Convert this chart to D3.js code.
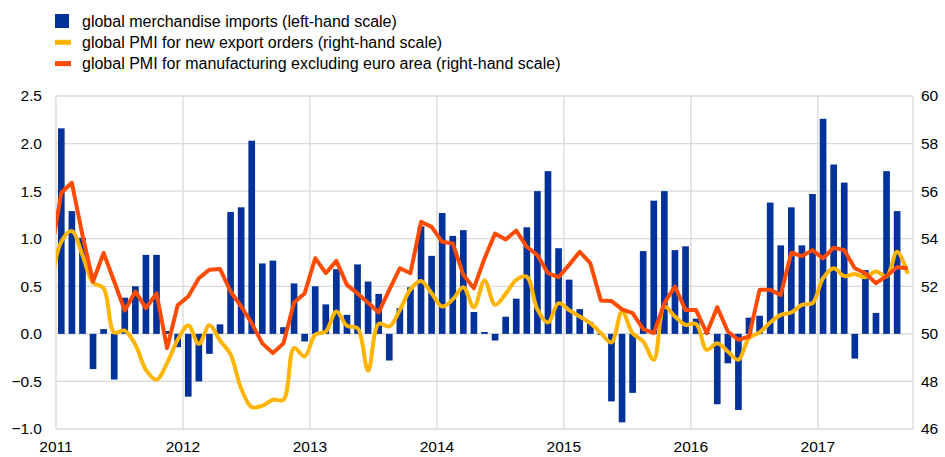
<!DOCTYPE html>
<html>
<head>
<meta charset="utf-8">
<script src="https://cdn.jsdelivr.net/npm/d3@7"></script>
<style>
  body { margin: 0; background: #fff; }
  svg { display: block; font-family: "Liberation Sans", Arial, sans-serif; }
</style>
</head>
<body>
<svg id="chart" width="945" height="457"></svg>
<script>
/* datos: mensual desde ene-2011 */
const years = [2011, 2012, 2013, 2014, 2015, 2016, 2017]
const leftTicks = [-1.0, -0.5, 0.0, 0.5, 1.0, 1.5, 2.0, 2.5]
const rightTicks = [46, 48, 50, 52, 54, 56, 58, 60]

/* importaciones mundiales, ene-2011 .. ago-2017 (escala izq.) */
const imports = [
  2.16, 1.29, 1.01, -0.37, 0.05, -0.48, 0.38, 0.50, 0.83, 0.83, 0.03, -0.14,
  -0.66, -0.50, -0.21, 0.10, 1.28, 1.33, 2.03, 0.74, 0.77, 0.07, 0.53, -0.08,
  0.50, 0.31, 0.68, 0.20, 0.73, 0.55, 0.42, -0.28, 0.27, 0.49, 1.13, 0.82,
  1.27, 1.03, 1.09, 0.23, 0.02, -0.07, 0.18, 0.37, 1.12, 1.50, 1.71, 0.90,
  0.57, 0.26, 0.12, -0.01, -0.71, -0.93, -0.62, 0.87, 1.40, 1.50, 0.88, 0.92,
  0.16, 0.01, -0.74, -0.31, -0.80, 0.17, 0.19, 1.38, 0.93, 1.33, 0.93, 1.47,
  2.26, 1.78, 1.59, -0.26, 0.67, 0.22, 1.71, 1.29
]

/* PMI nuevos pedidos de exportación, dic-2010 .. sep-2017 (escala der.) */
const exportOrders = [
  51.85,
  53.87, 54.32, 53.31, 52.15, 51.92, 50.06, 50.14, 49.54, 48.49, 48.07, 48.77, 49.75,
  50.35, 49.58, 50.36, 49.72, 49.14, 47.70, 46.92, 46.98, 47.23, 47.23, 49.40, 49.05,
  49.96, 50.10, 50.94, 50.34, 50.24, 48.45, 50.42, 50.31, 51.00, 51.87, 52.22, 51.71,
  51.15, 51.45, 51.96, 51.12, 52.24, 51.22, 51.68, 52.27, 52.40, 51.03, 50.48, 51.29,
  51.00, 50.73, 50.45, 50.03, 49.64, 50.94, 50.03, 49.68, 48.91, 51.15, 50.73, 50.38,
  50.42, 49.33, 49.61, 49.26, 48.91, 49.82, 50.06, 50.48, 50.80, 50.90, 51.22, 51.29,
  52.34, 52.76, 52.43, 52.52, 52.38, 52.62, 52.41, 53.45, 52.52
]

/* PMI manufacturas excl. zona euro, dic-2010 .. sep-2017 (escala der.) */
const manufacturing = [
  53.30,
  55.93, 56.35, 54.15, 52.20, 53.40, 52.20, 50.98, 51.78, 51.08, 51.70, 49.40, 51.20,
  51.57, 52.34, 52.70, 52.73, 51.78, 51.15, 50.45, 49.60, 49.19, 49.60, 51.32, 51.70,
  53.18, 52.55, 53.07, 52.06, 51.70, 51.31, 50.90, 51.85, 52.76, 52.55, 54.71, 54.50,
  53.87, 53.80, 52.48, 51.92, 53.17, 54.22, 53.97, 54.34, 53.66, 53.31, 52.55, 52.38,
  52.90, 53.45, 52.97, 51.40, 51.38, 51.03, 50.87, 50.20, 50.03, 51.29, 51.99, 51.00,
  51.00, 50.03, 51.12, 50.10, 49.75, 49.89, 51.85, 51.85, 51.64, 53.41, 53.27, 53.52,
  53.17, 53.62, 53.52, 52.76, 52.55, 52.13, 52.43, 52.80, 52.76
]

const legendItems = [
  { label: 'global merchandise imports (left-hand scale)', color: '#003299', type: 'bar' },
  { label: 'global PMI for new export orders (right-hand scale)', color: '#ffb400', type: 'line' },
  { label: 'global PMI for manufacturing excluding euro area (right-hand scale)', color: '#ff4b00', type: 'line' }
]

const margin = { left: 56, right: 32, top: 96, bottom: 28 }
const W = 945, H = 457
const svg = d3.select('#chart')

/* escalas: x por índice de mes (0 = ene-2011), 81 meses hasta sep-2017 */
const nMonths = 81
const x = d3.scaleLinear().domain([0, nMonths]).range([margin.left, W - margin.right])
const yL = d3.scaleLinear().domain([-1, 2.5]).range([H - margin.bottom, margin.top])
const yR = d3.scaleLinear().domain([46, 60]).range([H - margin.bottom, margin.top])
const step = x(1) - x(0)
const barW = step * 0.63

/* rejilla */
const grid = svg.append('g')
grid.selectAll('line.h').data(leftTicks).join('line')
  .attr('x1', x(0)).attr('x2', x(nMonths))
  .attr('y1', d => yL(d)).attr('y2', d => yL(d))
  .attr('stroke', '#d9d9d9').attr('stroke-width', 1.3)
grid.selectAll('line.v').data(years.map((y, i) => i * 12).concat([nMonths])).join('line')
  .attr('x1', d => x(d)).attr('x2', d => x(d))
  .attr('y1', yL(-1)).attr('y2', yL(2.5))
  .attr('stroke', '#d9d9d9').attr('stroke-width', 1.3)

/* barras */
svg.append('g').selectAll('rect').data(imports).join('rect')
  .attr('x', (d, i) => x(i + 0.5) - barW / 2)
  .attr('width', barW)
  .attr('y', d => yL(Math.max(0, d)))
  .attr('height', d => Math.abs(yL(d) - yL(0)))
  .attr('fill', '#003299')

/* líneas (desde dic-2010, recortadas al área del gráfico) */
svg.append('clipPath').attr('id', 'plot')
  .append('rect').attr('x', x(0)).attr('y', 0)
  .attr('width', x(nMonths) - x(0)).attr('height', H)

const lineOf = curve => d3.line()
  .x((d, i) => x(i - 0.5))
  .y(d => yR(d))
  .curve(curve)

const lines = svg.append('g').attr('clip-path', 'url(#plot)')
lines.append('path').datum(exportOrders)
  .attr('d', lineOf(d3.curveCatmullRom.alpha(0.5)))
  .attr('fill', 'none').attr('stroke', '#ffb400')
  .attr('stroke-width', 4).attr('stroke-linejoin', 'round')
lines.append('path').datum(manufacturing)
  .attr('d', lineOf(d3.curveLinear))
  .attr('fill', 'none').attr('stroke', '#ff4b00')
  .attr('stroke-width', 4).attr('stroke-linejoin', 'round')

/* ejes */
const fmt = d3.format('.1f')
svg.append('g').selectAll('text').data(leftTicks).join('text')
  .attr('x', 42).attr('y', d => yL(d)).attr('dy', '0.35em')
  .attr('text-anchor', 'end').attr('font-size', 15.5).attr('fill', '#000')
  .text(d => fmt(d))
svg.append('g').selectAll('text').data(rightTicks).join('text')
  .attr('x', 921).attr('y', d => yR(d)).attr('dy', '0.35em')
  .attr('text-anchor', 'start').attr('font-size', 15.5).attr('fill', '#000')
  .text(d => d)
svg.append('g').selectAll('text').data(years).join('text')
  .attr('x', (d, i) => x(i * 12)).attr('y', 452)
  .attr('text-anchor', 'middle').attr('font-size', 15.5).attr('fill', '#000')
  .text(d => d)

/* leyenda */
const leg = svg.append('g').selectAll('g').data(legendItems).join('g')
  .attr('transform', (d, i) => `translate(55, ${21 + i * 21.3})`)
leg.append('rect')
  .attr('x', 0).attr('width', d => d.type === 'bar' ? 14 : 16)
  .attr('y', d => d.type === 'bar' ? -7 : -2.5)
  .attr('height', d => d.type === 'bar' ? 14 : 5)
  .attr('fill', d => d.color)
leg.append('text')
  .attr('x', 27).attr('y', 0).attr('dy', '0.35em')
  .attr('font-size', 16).attr('fill', '#000')
  .text(d => d.label)
</script>
</body>
</html>
